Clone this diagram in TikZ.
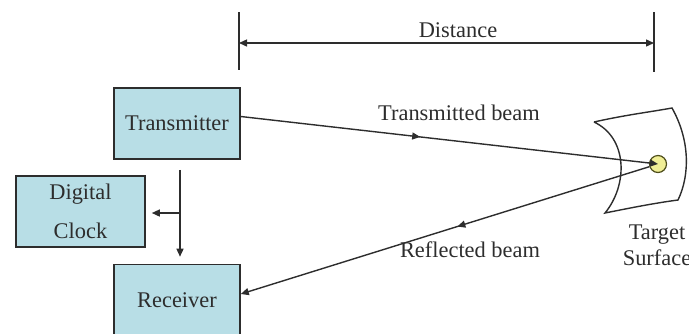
\documentclass[tikz,border=0pt]{standalone}
\usepackage{fontspec}
\setmainfont{Liberation Serif}
\newfontfamily\timesfont{Liberation Serif}
\usetikzlibrary{arrows.meta,decorations.markings,calc}
\definecolor{boxfill}{RGB}{184,222,230}
\definecolor{dotfill}{RGB}{240,238,150}
\definecolor{ink}{RGB}{45,45,45}

\begin{document}
\begin{tikzpicture}[x=0.5pt,y=-0.5pt,line width=0.7pt,color=ink,
  font=\timesfont\fontsize{11.2}{13}\selectfont,
  unit/.style={draw=ink,fill=boxfill,line width=0.8pt,minimum width=63pt,minimum height=35.5pt,align=center,inner sep=0pt},
  tip/.style={-{Triangle[length=4pt,width=3.5pt]}},
  midarrow/.style={decoration={markings,mark=at position #1 with {\arrow{Triangle[length=4pt,width=3.5pt]}}},postaction={decorate}}]
\useasboundingbox (0,0) rectangle (689,333);
\clip (0,0) rectangle (689,333);

\node[unit] (tx) at (177,123.5) {Transmitter};
\node[unit,minimum width=64.5pt] (clk) at (80.5,211.5) {Digital\\[6.5pt]Clock};
\node[unit] (rx) at (177,300) {Receiver};

\coordinate (dl) at (239,43);
\coordinate (dr) at (654,43);
\draw ($(dl)+(0,-31)$) -- ($(dl)+(0,27)$);
\draw ($(dr)+(0,-31)$) -- ($(dr)+(0,29)$);
\draw[{Triangle[length=4pt,width=3.5pt]}-{Triangle[length=4pt,width=3.5pt]}] (dl) -- (dr);
\node (dist) at (458,30) {Distance};

\draw (594,122) .. controls (625,115) and (650,112) .. (672,108)
  .. controls (690,140) and (690,175) .. (678,200)
  .. controls (655,203) and (630,208) .. (605,213)
  .. controls (628,185) and (628,138) .. (594,122);
\node[circle,draw=ink!60!olive,fill=dotfill,minimum size=8.5pt,inner sep=0pt,line width=0.6pt] (tgt) at (658,164) {};
\node[align=center] (surf) at (657,245) {Target\\Surface};

\draw[tip,midarrow=0.43] ([yshift=3.5pt]tx.east) -- (tgt.center);
\draw[tip,midarrow=0.47] (tgt) -- ([yshift=3pt]rx.east);
\node (tbeam) at (459,113) {Transmitted beam};
\node (rbeam) at (470,250) {Reflected beam};

\coordinate (br) at (180,213);
\draw[tip] ([xshift=1.5pt,yshift=-5pt]tx.south) -- ([xshift=1.5pt,yshift=3.5pt]rx.north);
\draw[tip] (br) -- ([xshift=3pt]clk.east |- br);
\end{tikzpicture}
\end{document}
